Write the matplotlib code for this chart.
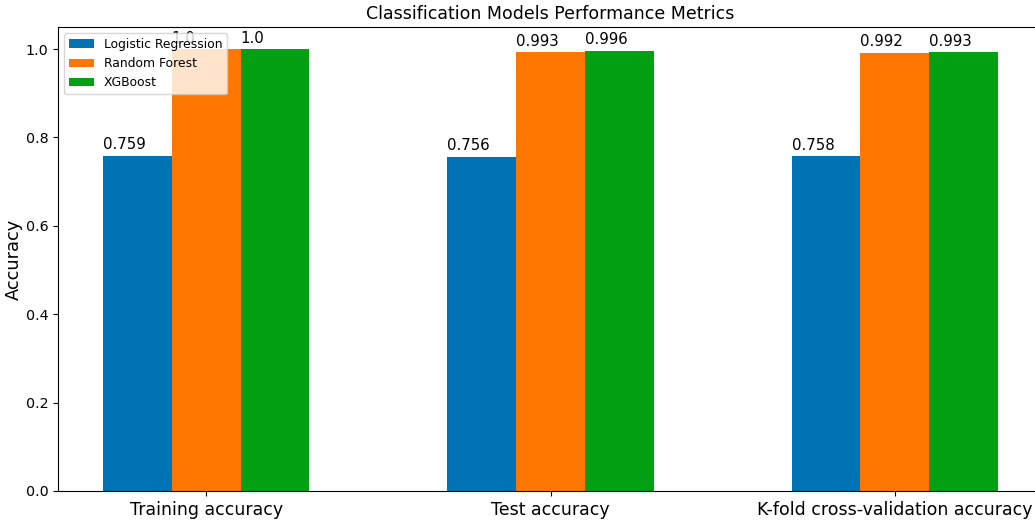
import matplotlib
matplotlib.use("Agg")
import matplotlib.pyplot as plt
import numpy as np

categories = ["Training accuracy", "Test accuracy", "K-fold cross-validation accuracy"]
models = ["Logistic Regression", "Random Forest", "XGBoost"]
logreg = [0.759, 0.756, 0.758]
rf = [1.0, 0.993, 0.992]
xgb = [1.0, 0.996, 0.993]
colors = ["#0173b4", "#ff7600", "#03a014"]

fig = plt.figure(figsize=(10.35, 5.22), dpi=100)
ax = fig.add_axes([58 / 1035, 1 - 491 / 522, (1043 - 58) / 1035, (491 - 27) / 522])

x = np.arange(len(categories))
w = 0.2
for i, (vals, name) in enumerate(zip([logreg, rf, xgb], models)):
    bars = ax.bar(x + (i - 1) * w, vals, w, label=name, color=colors[i])
    for b, v in zip(bars, vals):
        ax.text(b.get_x(), v + 0.008, str(v), ha="left", va="bottom", fontsize=10.8)

ax.set_xticks(x)
ax.set_xticklabels(categories, fontsize=12.5)
ax.tick_params(axis="y", labelsize=10.3)
ax.set_ylabel("Accuracy", fontsize=12.8, labelpad=2)
ax.set_title("Classification Models Performance Metrics", fontsize=12.5)
ax.legend(loc="upper left", fontsize=8.9)

fig.savefig("out.png", dpi=100)
